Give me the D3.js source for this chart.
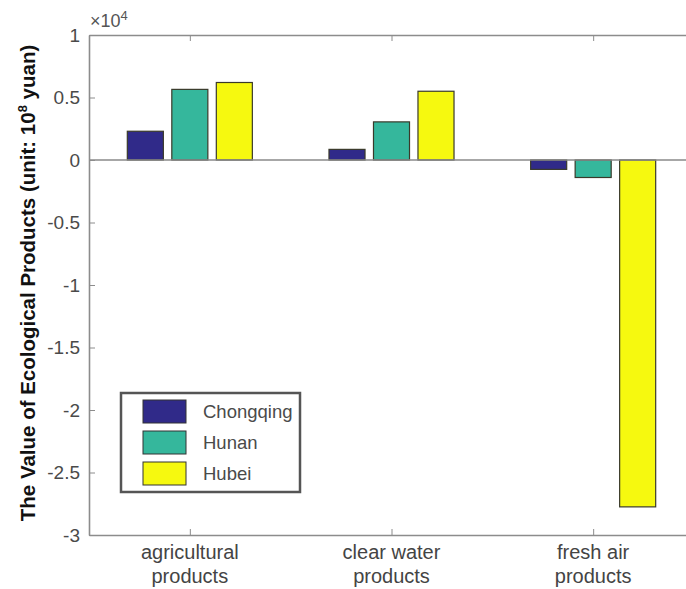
<!DOCTYPE html>
<html>
<head>
<meta charset="utf-8">
<script src="https://cdn.jsdelivr.net/npm/d3@7"></script>
<style>
  body { margin: 0; background: #fff; }
  svg { display: block; font-family: "Liberation Sans", Arial, sans-serif; }
</style>
</head>
<body>
<div id="chart"></div>
<script>
// data, values in yuan x10^8 (axis shows x10^4)
const categories = [["agricultural", "products"], ["clear water", "products"], ["fresh air", "products"]];
const regions = ["Chongqing", "Hunan", "Hubei"];
const chongqing = [2300, 850, -750];
const hunan = [5650, 3050, -1400];
const hubei = [6200, 5500, -27750];
const yTicks = [1, 0.5, 0, -0.5, -1, -1.5, -2, -2.5, -3];
const colors = ["#302a89", "#35b79c", "#f6f90f"];

const W = 686, H = 589;
const margin = {left: 89, top: 35, right: -8, bottom: 54};
const w = W - margin.left - margin.right,
      h = H - margin.top - margin.bottom;

const svg = d3.select("#chart").append("svg")
  .attr("width", W)
  .attr("height", H);

const g = svg.append("g")
  .attr("transform", "translate(" + margin.left + "," + margin.top + ")");

// scales (matlab style xlim [0.5, 3.5])
let x = d3.scaleLinear().domain([0.5, 3.5]).range([0, w]);
let y = d3.scaleLinear().domain([-3, 1]).range([h, 0]);
let xg = d3.scaleBand().domain(regions).range([-0.31, 0.31]).paddingInner(0.19);

const series = [chongqing, hunan, hubei];

// bars
regions.forEach(function(r, i){
  g.selectAll(".bar" + i)
    .data(series[i])
    .enter().append("rect")
    .attr("class", "bar" + i)
    .attr("x", function(d, j){ return x(j + 1 + xg(r)); })
    .attr("width", x(xg.bandwidth()) - x(0))
    .attr("y", function(d){ return y(Math.max(0, d / 1e4)); })
    .attr("height", function(d){ return Math.abs(y(d / 1e4) - y(0)); })
    .attr("fill", colors[i])
    .attr("stroke", "#3a3a2a")
    .attr("stroke-width", 1.2);
});

// baseline
g.append("line")
  .attr("x1", 0).attr("x2", w)
  .attr("y1", y(0)).attr("y2", y(0))
  .attr("stroke", "#8a8a8a").attr("stroke-width", 1.5);

// axes
const axisColor = "#8c8c8c";
function styleAxis(sel){
  sel.select(".domain").attr("stroke", axisColor).attr("stroke-width", 1.6);
  sel.selectAll(".tick line").attr("stroke", axisColor);
  sel.selectAll(".tick text").attr("fill", "#4a4a4a").style("font-size", "19px");
}

g.append("g")
  .call(d3.axisLeft(y).tickValues(yTicks).tickSizeInner(-6).tickSizeOuter(0).tickPadding(9)
    .tickFormat(function(d){ return d3.format("")(d).replace("−", "-"); }))
  .call(styleAxis);

g.append("g")
  .call(d3.axisRight(y).tickValues(yTicks).tickSizeInner(-6).tickSizeOuter(0).tickFormat(""))
  .attr("transform", "translate(" + w + ",0)")
  .call(styleAxis)
  .selectAll(".tick line").attr("stroke", "#e4e4e4");

g.append("g")
  .attr("transform", "translate(0," + h + ")")
  .call(d3.axisBottom(x).tickValues([1, 2, 3]).tickSizeInner(-6).tickSizeOuter(0).tickFormat(""))
  .call(styleAxis);

g.append("g")
  .call(d3.axisTop(x).tickValues([1, 2, 3]).tickSizeInner(-6).tickSizeOuter(0).tickFormat(""))
  .call(styleAxis);

// two line category labels
categories.forEach(function(c, i){
  const t = g.append("text")
    .attr("x", x(i + 1))
    .attr("y", h + 24)
    .attr("text-anchor", "middle")
    .attr("fill", "#444")
    .style("font-size", "20px");
  c.forEach(function(s, k){
    t.append("tspan").attr("x", x(i + 1)).attr("dy", k === 0 ? 0 : 24).text(s);
  });
});

// exponent
const ex = g.append("text")
  .attr("x", 1).attr("y", -8)
  .attr("fill", "#555")
  .style("font-size", "18px")
  .text("\u00d710");
ex.append("tspan").attr("dy", -7).style("font-size", "13px").text("4");

// y label
const yl = svg.append("text")
  .attr("transform", "translate(35," + 283 + ") rotate(-90)")
  .attr("text-anchor", "middle")
  .style("font-size", "20.5px")
  .style("font-weight", "bold")
  .attr("fill", "#111")
  .text("The Value of Ecological Products (unit: 10");
yl.append("tspan").attr("dy", -8).style("font-size", "13px").text("8");
yl.append("tspan").attr("dy", 8).text(" yuan)");

// legend
const leg = svg.append("g").attr("transform", "translate(121,393)");
leg.append("rect")
  .attr("width", 179).attr("height", 99)
  .attr("fill", "#fff")
  .attr("stroke", "#555").attr("stroke-width", 2.5);

regions.forEach(function(r, i){
  leg.append("rect")
    .attr("x", 22).attr("y", 7 + i * 31)
    .attr("width", 43).attr("height", 23)
    .attr("fill", colors[i])
    .attr("stroke", "#333").attr("stroke-width", 1);
  leg.append("text")
    .attr("x", 82).attr("y", 25 + i * 31)
    .attr("fill", "#4a4a4a")
    .style("font-size", "18.5px")
    .text(r);
});
</script>
</body>
</html>
